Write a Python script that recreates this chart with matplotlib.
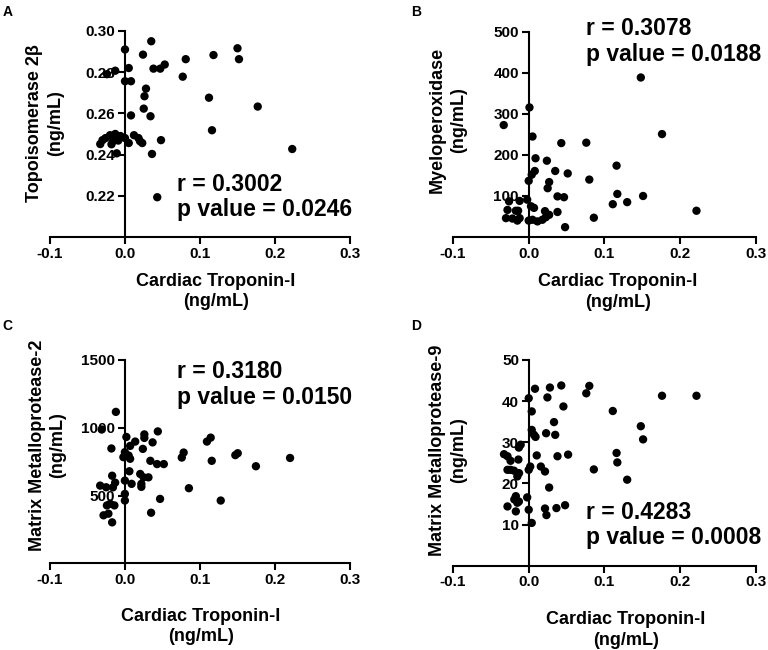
import matplotlib
matplotlib.use('Agg')
import matplotlib.pyplot as plt

plt.rcParams['font.family'] = ['Liberation Sans', 'DejaVu Sans']
plt.rcParams['font.weight'] = 'bold'

### data (x = cardiac troponin-I, ng/mL)
a_x = [0.035, 0.0, 0.024, -0.024, -0.013, 0.005, 0.0, 0.008, 0.038, 0.047, 0.053, 0.028, 0.026, 0.025, 0.034, 0.008,
       -0.033, -0.026, -0.020, -0.013, -0.016, -0.009, 0.0, 0.005, 0.012, 0.018, 0.023, -0.011, 0.036, 0.048, 0.043,
       -0.030, -0.006, 0.020, -0.018,
       0.077, 0.081, 0.118, 0.112, 0.116, 0.150, 0.152, 0.177, 0.223]
a_y = [0.295, 0.291, 0.2885, 0.279, 0.2807, 0.282, 0.2756, 0.2756, 0.2817, 0.2817, 0.2837, 0.272, 0.2683, 0.2623, 0.2586, 0.259,
       0.2451, 0.248, 0.2494, 0.250, 0.2465, 0.2468, 0.248, 0.2456, 0.2494, 0.248, 0.2456, 0.2406, 0.2403, 0.247, 0.2193,
       0.247, 0.249, 0.2465, 0.245,
       0.2778, 0.2863, 0.2883, 0.2676, 0.2518, 0.2916, 0.2863, 0.2633, 0.2427]

b_x = [0.148, 0.176, 0.2215, 0.151, 0.130, 0.117, 0.111, 0.116, 0.076, 0.080, 0.086, 0.0515,
       0.001, -0.033, 0.005, 0.043, 0.009, 0.024, 0.008, 0.004, 0.035, 0.0, 0.027, 0.025, 0.038, 0.0466,
       -0.026, -0.012, -0.002, -0.028, -0.017, -0.014, 0.003, 0.007, 0.0215, 0.038, 0.027, -0.030, -0.0215,
       -0.015, -0.012, 0.0, 0.005, 0.0115, 0.018, 0.0225, 0.048]
b_y = [389, 251, 64, 100, 85, 105, 80, 174, 230, 140, 47, 155,
       316, 273, 245, 229, 192, 186, 161, 152, 161, 137, 134, 119, 99, 97,
       87, 88, 91, 66, 64, 64, 75, 71, 63, 61, 54, 46, 45,
       40, 46, 40, 42, 38, 42, 48, 24]

c_x = [-0.012, -0.031, -0.018, 0.002, 0.0138, 0.007, 0.026, 0.026, 0.044, 0.037, 0.024, 0.0, -0.002, 0.005,
       0.007, 0.034, 0.043, 0.052, 0.006, -0.017, -0.033, -0.025, -0.016, -0.013, 0.0, 0.009, 0.0205, 0.025,
       0.0315, 0.022, 0.022, 0.0, 0.0, 0.047, 0.035, -0.024, -0.0196, -0.014, -0.0285, -0.022, -0.017,
       0.076, 0.0785, 0.1096, 0.1146, 0.116, 0.0855, 0.128, 0.1475, 0.1507, 0.175, 0.2206]
c_y = [1117, 987, 847, 932, 898, 866, 951, 925, 973, 892, 844, 820, 783, 795,
       771, 756, 732, 732, 679, 646, 573, 561, 560, 595, 610, 586, 659, 634,
       634, 586, 564, 512, 463, 475, 373, 427, 439, 427, 354, 366, 302,
       780, 817, 898, 927, 756, 554, 463, 798, 812, 716, 777]

d_x = [0.0083, 0.028, 0.043, 0.0, 0.0247, 0.0458, 0.004, 0.0334, 0.004, 0.007, 0.009, 0.023, 0.035,
       -0.0106, -0.013, -0.0326, -0.028, -0.024, -0.0136, 0.0106, 0.038, 0.052, -0.024, -0.0194, -0.0128,
       -0.015, -0.028, 0.0, 0.002, 0.016, 0.0215, 0.027, -0.017, -0.019, -0.013, -0.015, -0.002, -0.028,
       -0.017, 0.0, 0.0215, 0.0234, 0.0366, 0.048, 0.004,
       0.076, 0.080, 0.111, 0.148, 0.151, 0.176, 0.2215, 0.116, 0.117, 0.086, 0.130]
d_y = [43.0, 43.3, 43.8, 40.7, 40.9, 38.7, 37.5, 34.9, 33.0, 31.8, 31.3, 32.2, 31.8,
       29.4, 28.7, 27.1, 26.6, 25.5, 25.8, 26.8, 26.6, 27.0, 23.3, 23.1, 22.5,
       21.7, 23.3, 23.3, 24.1, 24.1, 22.9, 19.0, 16.9, 16.1, 15.6, 15.3, 16.6, 14.4,
       13.2, 13.6, 13.9, 12.3, 14.0, 14.7, 10.4,
       41.9, 43.7, 37.6, 33.9, 30.7, 41.3, 41.3, 27.4, 25.1, 23.4, 20.9]

x_ticks = [-0.1, 0.0, 0.1, 0.2, 0.3]
x_ticklabels = ['-0.1', '0.0', '0.1', '0.2', '0.3']
x_label = 'Cardiac Troponin-I\n(ng/mL)'

panels = [
    # letter, x, y, ylim, yticks, yticklabels, ylabel, stats text
    ('A', a_x, a_y, (0.20, 0.30), [0.22, 0.24, 0.26, 0.28, 0.30], ['0.22', '0.24', '0.26', '0.28', '0.30'],
     'Topoisomerase 2β\n(ng/mL)', 'r = 0.3002\np value = 0.0246'),
    ('B', b_x, b_y, (0, 500), [100, 200, 300, 400, 500], ['100', '200', '300', '400', '500'],
     'Myeloperoxidase\n(ng/mL)', 'r = 0.3078\np value = 0.0188'),
    ('C', c_x, c_y, (0, 1500), [500, 1000, 1500], ['500', '1000', '1500'],
     'Matrix Metalloprotease-2\n(ng/mL)', 'r = 0.3180\np value = 0.0150'),
    ('D', d_x, d_y, (0, 50), [10, 20, 30, 40, 50], ['10', '20', '30', '40', '50'],
     'Matrix Metalloprotease-9\n(ng/mL)', 'r = 0.4283\np value = 0.0008'),
]

# layout of each panel in figure fractions, plus label / text placements in axes fractions
axes_rects = [[0.0651, 0.6354, 0.3906, 0.3170],
              [0.5898, 0.6354, 0.3945, 0.3154],
              [0.0651, 0.1334, 0.3900, 0.3128],
              [0.5898, 0.1297, 0.3945, 0.3165]]
ylabel_pos = [(-0.017, 0.551), (-0.017, 0.57), (-0.008, 0.58), (-0.017, 0.56)]
xlabel_pos = [(0.552, -0.265), (0.544, -0.268), (0.503, -0.311), (0.571, -0.313)]
stat_pos = [(0.423, 0.194), (0.438, 0.954), (0.423, 0.878), (0.438, 0.198)]
letter_pos = [(7.5, 11.5), (416, 12.5), (7.5, 326), (416, 326)]

fig = plt.figure(figsize=(7.68, 6.5), dpi=100)

for i, (letter, xs, ys, ylim, yt, ytl, ylab, stat) in enumerate(panels):
    ax = fig.add_axes(axes_rects[i])
    ax.scatter(xs, ys, s=36, color='black', edgecolors='none', zorder=3, clip_on=False)

    ax.set_xlim(-0.1, 0.3)
    ax.set_ylim(*ylim)
    ax.set_xticks(x_ticks)
    ax.set_xticklabels(x_ticklabels)
    ax.set_yticks(yt)
    ax.set_yticklabels(ytl)

    # GraphPad style: y axis sits at x = 0
    ax.spines['top'].set_visible(False)
    ax.spines['right'].set_visible(False)
    ax.spines['left'].set_position(('data', 0))
    for sp in ['left', 'bottom']:
        ax.spines[sp].set_linewidth(1.5)
    ax.tick_params(axis='both', direction='out', length=5, width=1.5, labelsize=11, pad=2)
    for lab in ax.get_xticklabels() + ax.get_yticklabels():
        lab.set_fontweight('bold')

    ax.set_xlabel(x_label, fontsize=13, fontweight='bold', va='center', linespacing=1.25)
    ax.xaxis.set_label_coords(*xlabel_pos[i])
    ax.set_ylabel(ylab, fontsize=13, fontweight='bold', va='center', linespacing=1.3)
    ax.yaxis.set_label_coords(*ylabel_pos[i])

    ax.text(stat_pos[i][0], stat_pos[i][1], stat, transform=ax.transAxes, ha='left', va='center',
            fontsize=16.5, fontweight='bold', linespacing=1.15)

    fig.text(letter_pos[i][0] / 768, 1 - letter_pos[i][1] / 650, letter, ha='center', va='center',
             fontsize=10, fontweight='bold')

fig.savefig('out.png', dpi=100)
